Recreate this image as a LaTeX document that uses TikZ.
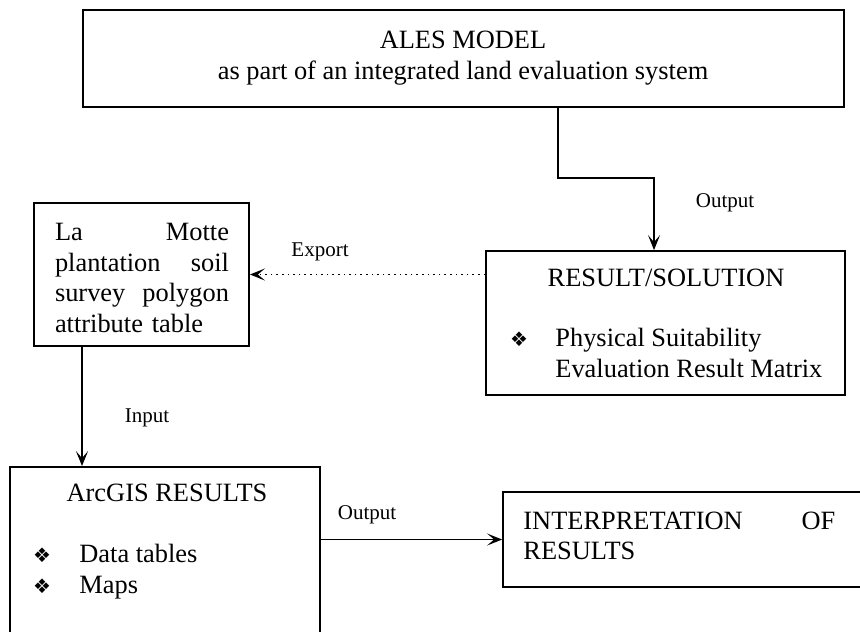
\documentclass[tikz,border=0pt]{standalone}
\usepackage{fontspec}
\setmainfont{Liberation Serif}
\newfontfamily\dingfont{DejaVu Sans}
\usetikzlibrary{arrows.meta}
\newcommand{\diam}{{\dingfont\fontsize{10}{12}\selectfont\symbol{"2756}}}
\tikzset{
  box/.style={draw, line width=0.9pt, inner sep=0pt},
  txt/.style={font=\fontsize{13.2}{15.3}\selectfont, inner sep=0pt},
  lbl/.style={font=\fontsize{10.5}{12}\selectfont, inner sep=0pt},
  arr/.style={line width=0.8pt, -{Stealth[length=7.5pt,width=6pt,inset=3.5pt]}}
}
\begin{document}
\begin{tikzpicture}[x=0.5pt, y=-0.5pt]
      \useasboundingbox (0,0) rectangle (860,631);
      \clip (0,0) rectangle (860,631);
      % boxes
      \node[box, minimum width=380.5pt, minimum height=48.5pt] (ales) at (463.5,58.5) {};
      \node[box, minimum width=179.5pt, minimum height=72pt] (result) at (665.5,323) {};
      \node[box, minimum width=107.5pt, minimum height=71.5pt] (motte) at (141.5,274.5) {};
      \node[box, minimum width=155pt, minimum height=96.5pt] (arcgis) at (165,563.5) {};
      \node[box, minimum width=188.5pt, minimum height=47.5pt] (interp) at (691.5,539.5) {};
      % texts
      \node[txt, align=center] (alestxt) at (463,58) {ALES MODEL\\as part of an integrated land evaluation system};
      \node[txt] (restitle) at (666,278) {RESULT/SOLUTION};
      \node[txt, anchor=base] (resdot) at (519,346) {\diam};
      \node[txt, anchor=base west] (resitem1) at (555,346) {Physical Suitability};
      \node[txt, anchor=base west] (resitem2) at (555,377) {Evaluation Result Matrix};
      \node[txt, text width=87pt, align=left] (mottetxt) at (142,278)
        {La\hfill Motte\\plantation\hfill soil\\survey\hfill polygon\\attribute table};
      \node[txt] (arctitle) at (167,493) {ArcGIS RESULTS};
      \node[txt, anchor=base] (arcdot1) at (42,562) {\diam};
      \node[txt, anchor=base west] (arcitem1) at (79,562) {Data tables};
      \node[txt, anchor=base] (arcdot2) at (42,593) {\diam};
      \node[txt, anchor=base west] (arcitem2) at (79,593) {Maps};
      \node[txt, anchor=west, text width=156pt, align=left] (interptxt) at (523,536)
        {INTERPRETATION\hfill OF\\RESULTS};
      % bends
      \coordinate (k1) at (558,178);
      \coordinate (k2) at (654,178);
      \coordinate (k3) at (82,400);
      % connectors
      \begin{scope}[arr]
        \draw (ales.south -| k1) -- (k1) -- (k2) -- (k2 |- result.north);
        \draw[dotted] (result.west |- motte.east) -- (motte.east);
        \draw (motte.south -| k3) -- (arcgis.north -| k3);
        \draw (arcgis.east |- interp.west) -- (interp.west);
      \end{scope}
      % edge labels
      \node[lbl] (out1) at (725,203) {Output};
      \node[lbl] (export) at (320,252) {Export};
      \node[lbl] (input) at (147,418) {Input};
      \node[lbl] (out2) at (367,515) {Output};
    \end{tikzpicture}
\end{document}
